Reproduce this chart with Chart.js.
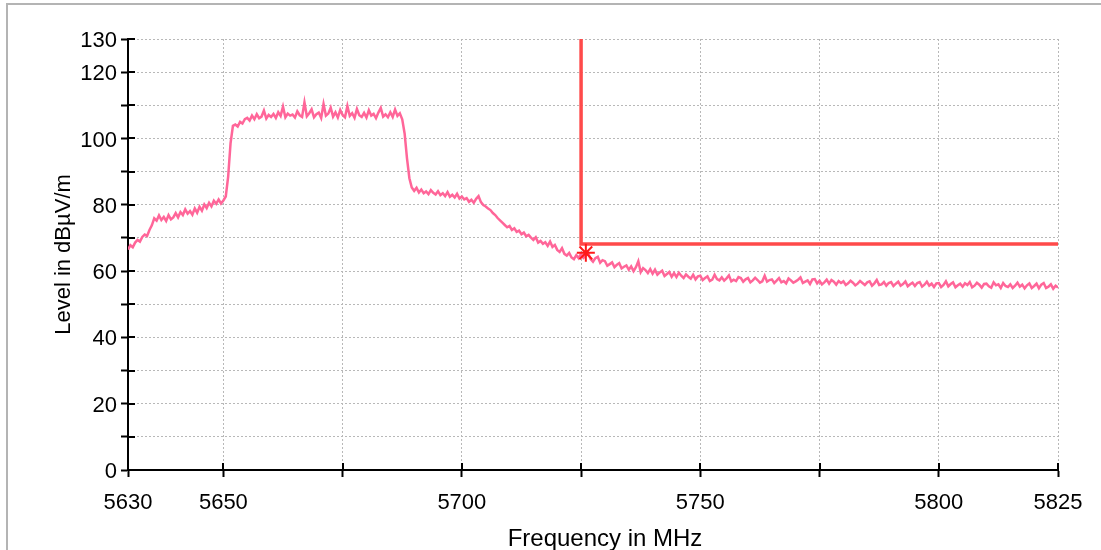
<!DOCTYPE html>
<html>
<head>
<meta charset="utf-8">
<script src="https://cdn.jsdelivr.net/npm/chart.js@4.4.1/dist/chart.umd.min.js"></script>
<style>
  html, body { margin: 0; padding: 0; background: #fff; }
  #wrap { position: relative; width: 1101px; height: 550px; overflow: hidden; }
  #frame { position: absolute; left: 6px; top: 3px; width: 1300px; height: 700px; border: 2px solid #b4b4b4; }
  #chart { position: absolute; left: 0; top: 0; }
</style>
</head>
<body>
<div id="wrap">
  <div id="frame"></div>
  <canvas id="chart" width="1101" height="550"></canvas>
</div>
<script>
// sweep definition: one reading every 0.5 MHz from 5630 to 5825
const FREQ_START = 5630;
const FREQ_STEP = 0.5;

const levels = [
  66.5, 67.8, 67.2, 68.6, 69.4, 68.9, 70.3, 71.0, 70.6, 72.4,
  73.8, 75.9, 75.2, 76.8, 75.4, 76.3, 75.1, 76.9, 75.6, 76.2,
  77.5, 76.2, 77.8, 76.9, 78.6, 77.3, 78.1, 77.0, 78.9, 77.6,
  79.4, 78.2, 80.1, 79.0, 80.6, 79.5, 81.2, 80.3, 81.6, 80.4,
  81.3, 82.5, 88.5, 98.5, 103.8, 104.2, 103.6, 105.0, 104.5, 105.8,
  106.2, 105.4, 106.9, 105.8, 107.3, 106.1, 106.6, 108.4, 106.0, 107.1,
  106.5, 107.4, 106.2, 107.9, 106.8, 109.6, 106.4, 107.5, 106.9, 107.2,
  106.3, 108.2, 107.0, 106.5, 110.9, 106.7, 107.6, 108.8, 106.4, 107.3,
  107.8, 106.2, 110.4, 106.9, 107.5, 109.3, 106.6, 107.9, 106.3, 108.6,
  107.1, 106.4, 109.8, 106.8, 107.6, 106.2, 108.9, 107.0, 106.5, 107.7,
  106.3, 108.5, 106.9, 107.4, 106.1, 107.8, 109.2, 106.6, 107.3, 106.4,
  107.9, 106.5, 108.7, 106.8, 107.6, 105.8, 101.5, 94.0, 88.0, 85.2,
  84.2, 85.1, 83.7, 84.6, 83.5, 84.0, 83.2, 84.4, 83.6, 83.1,
  84.1, 82.9, 83.5, 82.6, 83.8, 82.4, 83.0, 82.2, 83.3, 81.9,
  82.5, 81.6, 82.0, 80.9, 81.5, 80.6, 81.8, 82.6, 80.8, 79.9,
  79.5, 78.9, 78.4, 77.5, 76.9, 76.0, 75.3, 74.6, 73.9, 73.2,
  73.6, 72.4, 72.9, 71.8, 72.2, 71.1, 71.6, 70.5, 70.9, 70.1,
  69.4, 70.2, 68.6, 69.1, 68.2, 68.7, 67.6, 68.9, 67.3, 67.9,
  66.4, 65.8, 66.9, 65.2, 64.7, 65.5, 64.1, 63.6, 64.8, 63.9,
  65.2, 64.0, 64.6, 65.4, 63.6, 62.8, 63.9, 64.3, 62.5, 63.3,
  63.0, 61.6, 62.1, 62.6, 61.2, 61.9, 62.4, 60.8, 61.3, 61.7,
  60.4, 61.4, 60.0, 61.2, 63.0, 59.7, 60.9, 60.3, 59.4, 60.6,
  59.2, 60.4, 58.9, 59.6, 60.1, 58.5, 59.1, 59.7, 58.3, 59.4,
  58.2, 59.5, 58.6, 57.9, 59.0, 58.3, 57.7, 58.9, 57.5, 58.4,
  58.6, 57.3, 57.9, 58.4, 57.0, 57.4, 58.9, 57.6, 57.2, 58.1,
  57.1, 57.8, 58.7, 56.9, 57.4, 57.0, 58.2, 57.9, 56.8, 57.5,
  57.9, 56.6, 57.2, 58.0, 57.3, 56.5, 56.9, 58.6, 56.8, 57.3,
  57.5, 56.4, 57.1, 57.9, 56.6, 57.0, 56.3, 57.8, 57.2, 56.5,
  56.9, 57.4, 58.1, 56.4, 56.8, 57.2, 56.1, 57.5, 57.6, 56.3,
  57.1, 56.0, 56.6, 57.4, 56.2, 57.3, 56.8, 55.9, 57.0, 56.4,
  56.9, 55.8, 56.3, 57.1, 56.5, 55.7, 56.2, 57.0, 56.4, 55.8,
  56.6, 56.9, 55.6, 56.3, 57.3, 55.8, 56.0, 56.7, 55.6, 56.4,
  56.7, 55.5, 56.2, 56.8, 55.6, 56.1, 56.9, 55.4, 56.0, 56.5,
  55.5, 56.4, 56.7, 55.3, 55.9, 56.8, 55.6, 56.2, 55.2, 56.3,
  56.4, 55.2, 55.8, 56.9, 55.4, 56.1, 56.6, 55.1, 55.7, 56.2,
  55.3, 56.3, 55.8, 56.7, 55.1, 55.6, 56.5, 55.9, 55.0, 56.1,
  56.2, 55.4, 55.0, 56.6, 55.7, 56.0, 54.9, 56.4, 55.5, 55.2,
  56.0, 54.9, 55.6, 56.5, 55.3, 55.9, 54.8, 55.7, 56.3, 54.9,
  55.5, 56.2, 54.8, 55.9, 56.4, 54.9, 55.3, 56.0, 54.7, 55.6,
  55.0
];

// limit line (L-shape) and the marker
const limitFreq = [5725, 5725, 5825];
const limitLevel = [130, 68.2, 68.2];
const markerFreq = [5726];
const markerLevel = [65.5];

// axes
const xTicks = [5630, 5650, 5675, 5700, 5725, 5750, 5775, 5800, 5825];
const xLabelled = [5630, 5650, 5700, 5750, 5800, 5825];
const yLabelled = [0, 20, 40, 60, 80, 100, 120, 130];

const FONT = '"Liberation Sans", Arial, sans-serif';
const TICK_IN = 7;

const trace = levels.map((y, i) => ({ x: FREQ_START + i * FREQ_STEP, y }));
const limit = limitFreq.map((x, i) => ({ x, y: limitLevel[i] }));
const marker = markerFreq.map((x, i) => ({ x, y: markerLevel[i] }));

// inner half of the ticks (crossing the axis) + axis titles
const axisDecor = {
  id: 'axisDecor',
  beforeDatasetsDraw(chart) {
    const { ctx, chartArea: area, scales } = chart;
    ctx.save();
    ctx.strokeStyle = '#000';
    ctx.lineWidth = 2;
    ctx.beginPath();
    xTicks.forEach((v) => {
      const px = Math.round(scales.x.getPixelForValue(v));
      ctx.moveTo(px, area.bottom);
      ctx.lineTo(px, area.bottom - TICK_IN);
    });
    for (let v = 0; v <= 130; v += 10) {
      const py = Math.round(scales.y.getPixelForValue(v));
      ctx.moveTo(area.left, py);
      ctx.lineTo(area.left + TICK_IN, py);
    }
    ctx.stroke();
    ctx.restore();
  },
  afterDraw(chart) {
    const { ctx, chartArea: area } = chart;
    ctx.save();
    ctx.fillStyle = '#000';
    ctx.textAlign = 'center';
    ctx.textBaseline = 'alphabetic';
    ctx.font = `24px ${FONT}`;
    ctx.fillText('Frequency in MHz', 605, 546);
    ctx.font = `22px ${FONT}`;
    ctx.translate(70, (area.top + area.bottom) / 2);
    ctx.rotate(-Math.PI / 2);
    ctx.fillText('Level in dBµV/m', 0, 0);
    ctx.restore();
  }
};

new Chart(document.getElementById('chart'), {
  type: 'line',
  data: {
    datasets: [
      {
        data: marker,
        showLine: false,
        pointStyle: 'star',
        pointRadius: 9,
        pointBorderWidth: 2,
        pointBorderColor: '#ff1a1a',
        pointBackgroundColor: '#ff1a1a'
      },
      {
        data: limit,
        borderColor: '#ff4a4a',
        borderWidth: 3.5,
        pointRadius: 0,
        tension: 0
      },
      {
        data: trace,
        borderColor: '#ff6699',
        borderWidth: 2.5,
        pointRadius: 0,
        tension: 0
      }
    ]
  },
  options: {
    responsive: false,
    animation: false,
    layout: { padding: { top: 39, right: 43, bottom: 0, left: 0 } },
    plugins: { legend: { display: false }, tooltip: { enabled: false } },
    scales: {
      x: {
        type: 'linear',
        min: 5630,
        max: 5825,
        afterBuildTicks: (scale) => { scale.ticks = xTicks.map((value) => ({ value })); },
        afterFit: (scale) => { scale.height = 80; },
        grid: {
          color: '#b8b8b8',
          lineWidth: 1,
          tickLength: 7,
          tickColor: '#000',
          tickWidth: 2
        },
        border: { display: true, color: '#000', width: 2, dash: [2, 2] },
        ticks: {
          autoSkip: false,
          maxRotation: 0,
          padding: 13,
          color: '#000',
          font: { family: FONT, size: 22 },
          callback: (v) => (xLabelled.includes(v) ? String(v) : '')
        }
      },
      y: {
        min: 0,
        max: 130,
        afterFit: (scale) => { scale.width = 128; },
        grid: {
          color: '#b8b8b8',
          lineWidth: 1,
          tickLength: 7,
          tickColor: '#000',
          tickWidth: 2
        },
        border: { display: true, color: '#000', width: 2, dash: [2, 2] },
        ticks: {
          stepSize: 10,
          padding: 4,
          labelOffset: 2,
          color: '#000',
          font: { family: FONT, size: 22 },
          callback: (v) => (yLabelled.includes(v) ? String(v) : '')
        }
      }
    }
  },
  plugins: [axisDecor]
});
</script>
</body>
</html>
